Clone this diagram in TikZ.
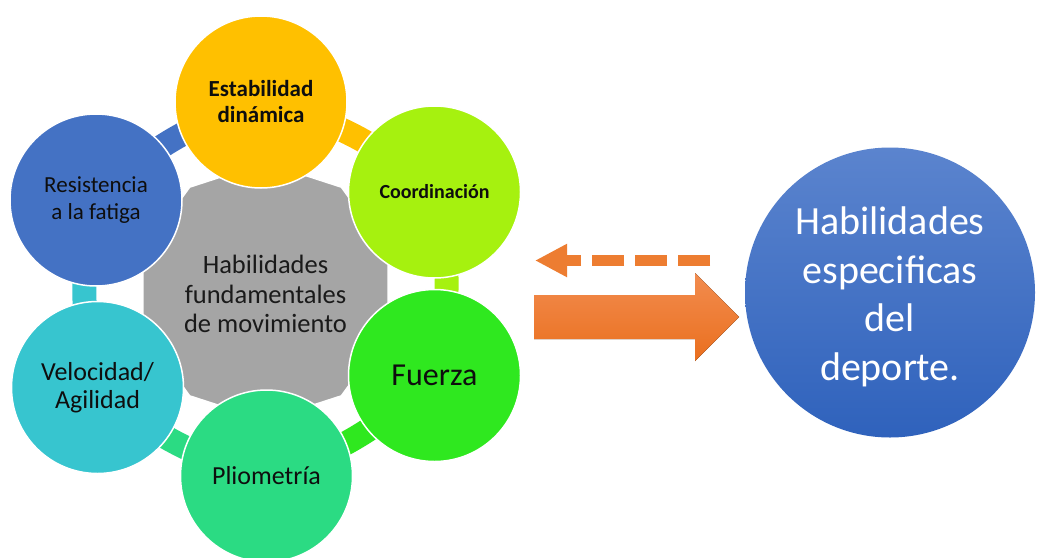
\documentclass[tikz,border=0pt]{standalone}
\usepackage{fontspec}
\setmainfont{Carlito}
\usetikzlibrary{arrows.meta,shapes.geometric}
\pgfdeclarelayer{bg}
\pgfsetlayers{bg,main}
\definecolor{cEst}{HTML}{FFC000}
\definecolor{cCoo}{HTML}{A6F10F}
\definecolor{cFue}{HTML}{2FE81F}
\definecolor{cPli}{HTML}{2BDB83}
\definecolor{cVel}{HTML}{37C5CF}
\definecolor{cRes}{HTML}{4472C4}
\definecolor{cHub}{HTML}{A5A5A5}
\definecolor{cSpTop}{HTML}{5B84CE}
\definecolor{cSpBot}{HTML}{2F62BC}
\definecolor{cDash}{HTML}{ED7D31}
\definecolor{cArTop}{HTML}{F28C4F}
\definecolor{cArBot}{HTML}{EA6F1E}
\definecolor{cTxt}{HTML}{0E0E0E}
\definecolor{cHubTxt}{HTML}{1A1A1A}
\begin{document}
\begin{tikzpicture}[x=1pt,y=-1pt,
  petal/.style={circle, minimum size=172pt, inner sep=0pt, draw=white, line width=1.5pt, align=center, text=cTxt},
  bar/.style={line width=24pt},
  fs/.style 2 args={font=\fontsize{#1}{#2}\selectfont},
  fb/.style 2 args={font=\fontsize{#1}{#2}\selectfont\bfseries}
]
\begin{pgfonlayer}{bg}
\fill[white] (0,0) rectangle (1041,557);
\end{pgfonlayer}
\useasboundingbox (0,0) rectangle (1041,557);

% hub
\node[regular polygon, regular polygon sides=10, shape border rotate=18, minimum size=258pt, inner sep=0pt,
      fill=cHub, draw=white, line width=1.5pt] (hubshape) at (265.5,291.5) {};
\node[align=center, text=cHubTxt, fs={26.5}{29.5}] (hub) at (265.5,294) {Habilidades\\fundamentales\\de movimiento};

% petals
\node[petal, fill=cEst, fb={23}{26}] (est) at (261,102) {Estabilidad\\din\'amica};
\node[petal, fill=cCoo, fb={20}{24}] (coo) at (434.5,192) {Coordinaci\'on};
\node[petal, fill=cFue, fs={32}{36}] (fue) at (434.5,375.5) {Fuerza};
\node[petal, fill=cPli, fs={26}{28}] (pli) at (266.5,476) {Pliometr\'ia};
\node[petal, fill=cVel, fs={26}{28}] (vel) at (97.5,387.5) {Velocidad/\\Agilidad};
\node[petal, fill=cRes, fs={23}{26.5}] (res) at (96,200) {Resistencia\\a la fatiga};

% cycle bars
\begin{pgfonlayer}{bg}
\draw[bar, cEst] (est.center) to[bend left=13] (coo.center);
\draw[bar, cCoo] (coo.center) to[bend left=13] (fue.center);
\draw[bar, cFue] (fue.center) to[bend left=13] (pli.center);
\draw[bar, cPli] (pli.center) to[bend left=13] (vel.center);
\draw[bar, cVel] (vel.center) to[bend left=13] (res.center);
\draw[bar, cRes] (res.center) to[bend left=13] (est.center);
\end{pgfonlayer}

% sport circle
\node[circle, minimum size=290pt, inner sep=0pt, top color=cSpTop, bottom color=cSpBot] (sport) at (890,292.5) {};
\node[text=white, align=center, fs={40}{48.5}] (sportlbl) at (890,297) {Habilidades\\especificas\\del\\deporte.};

% dashed back arrow
\coordinate (dA) at (710,260.5);
\coordinate (dB) at (535,260.5);
\draw[cDash, line width=11pt, dash pattern=on 32pt off 11pt, -{Triangle[length=32pt,width=31pt]}] (dA) -- (dB);

% block arrow
\coordinate (bB) at (739,317);
\fill[top color=cArTop, bottom color=cArBot]
  (534,295) -- (695,295) -- (695,273) -- (bB) -- (695,361) -- (695,339) -- (534,339) -- cycle;
\end{tikzpicture}
\end{document}
